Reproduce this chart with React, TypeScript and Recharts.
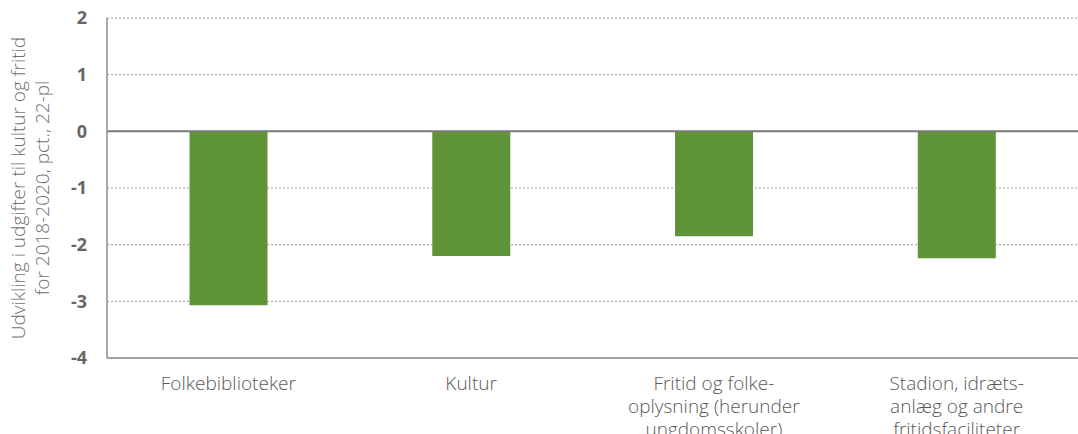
import { BarChart, Bar, XAxis, YAxis, CartesianGrid, ReferenceLine } from "recharts"

const categories = [
  "Folkebiblioteker",
  "Kultur",
  "Fritid og folke-\noplysning (herunder\nungdomsskoler)",
  "Stadion, idræts-\nanlæg og andre\nfritidsfaciliteter",
]
const values = [-3.07, -2.2, -1.85, -2.24]
const yTicks = [-4, -3, -2, -1, 0, 1, 2]
const yLabelLines = ["Udvikling i udgifter til kultur og fritid", "for 2018-2020, pct., 22-pl"]

const data = categories.map((name, i) => ({ name, value: values[i] }))

const FONT = "'Open Sans', sans-serif"

const CategoryTick = (props: any) => {
  const { x, y, payload } = props
  const lines = String(payload.value).split("\n")
  return (
    <text x={x} y={y + 24} textAnchor="middle" fill="#595959" fontSize={19} fontFamily={FONT} fontWeight={300}>
      {lines.map((l, i) => (
        <tspan key={i} x={x} dy={i === 0 ? 0 : 23}>
          {l}
        </tspan>
      ))}
    </text>
  )
}

const YTitle = (props: any) => {
  const { viewBox } = props
  const cy = viewBox.y + viewBox.height / 2
  const cx = 31
  return (
    <text
      transform={`translate(${cx}, ${cy}) rotate(-90)`}
      textAnchor="middle"
      fill="#6f6f6f"
      fontSize={19}
      fontFamily={FONT}
      fontWeight={300}
    >
      {yLabelLines.map((l, i) => (
        <tspan key={i} x={0} y={i === 0 ? -6 : 18}>
          {l}
        </tspan>
      ))}
    </text>
  )
}

export default function App() {
  return (
    <div style={{ position: "absolute", left: 0, top: 0, background: "#fff" }}>
      <BarChart
        width={1078}
        height={434}
        data={data}
        margin={{ top: 18, right: 0, left: 0, bottom: 0 }}
        barCategoryGap="34%"
      >
        <CartesianGrid vertical={false} stroke="#9a9a9a" strokeDasharray="2 2" />
        <XAxis
          dataKey="name"
          height={76}
          tick={<CategoryTick />}
          tickLine={false}
          axisLine={{ stroke: "#8c8c8c", strokeWidth: 1.5 }}
          interval={0}
        />
        <YAxis
          width={107}
          domain={[-4, 2]}
          ticks={yTicks}
          tickLine={false}
          axisLine={{ stroke: "#8c8c8c", strokeWidth: 1.5 }}
          tick={{ fill: "#666666", fontSize: 18, fontWeight: 700, fontFamily: FONT }}
          tickMargin={14}
          label={<YTitle />}
        />
        <ReferenceLine y={0} stroke="#7a7a7a" strokeWidth={2} />
        <Bar dataKey="value" fill="#5f9337" isAnimationActive={false} />
      </BarChart>
    </div>
  )
}
